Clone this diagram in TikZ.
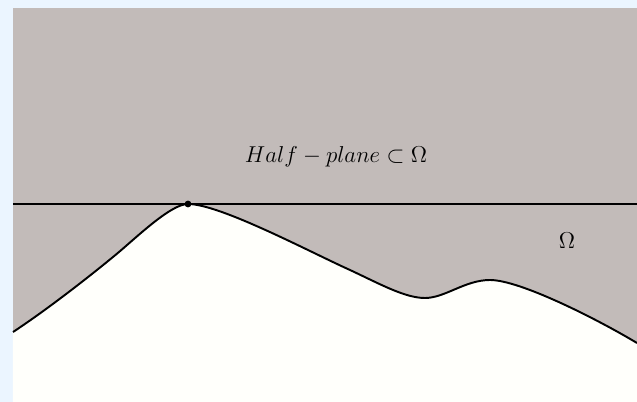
\documentclass[tikz,border=0pt]{standalone}
\usepackage{amsmath, amssymb}
\usetikzlibrary{positioning}
\definecolor{frameblue}{HTML}{EBF5FF}
\definecolor{domgray}{HTML}{C2BBB9}
\definecolor{offwhite}{HTML}{FFFFFB}
\tikzset{
  bound/.style = {line width=1.1pt, black},
  hline/.style = {line width=0.8pt, black},
  lbl/.style = {font=\large, scale=1.09, transform shape}
}

\begin{document}
\begin{tikzpicture}[x=0.02cm, y=-0.02cm]
% frame and domain
\fill[frameblue] (0,0) rectangle (637,402);
\useasboundingbox (0,0) rectangle (637,402);
\fill[domgray] (13,8) rectangle (637,402);

% boundary of Omega
\def\bdry{(13,332) .. controls (45,311) and (85,280) .. (113,257)
  .. controls (134,240) and (170,204) .. (188,204)
  .. controls (220,204) and (310,252) .. (350,270)
  .. controls (380,284) and (405,298) .. (425,298)
  .. controls (445,298) and (465,280) .. (490,280)
  .. controls (520,280) and (597,319) .. (637,343)}
\fill[offwhite] \bdry -- (637,402) -- (13,402) -- cycle;
\draw[bound] \bdry;

% supporting line
\coordinate (lft) at (13,204);
\coordinate (rgt) at (637,204);
\coordinate (touch) at (188,204);
\draw[hline] (lft) -- (rgt);
\fill (touch) circle (3.4);

% labels
\node[lbl] (half) at (336,157) {$Half-plane\subset\Omega$};
\node[lbl] (omega) at (567,241) {$\Omega$};
\end{tikzpicture}
\end{document}
